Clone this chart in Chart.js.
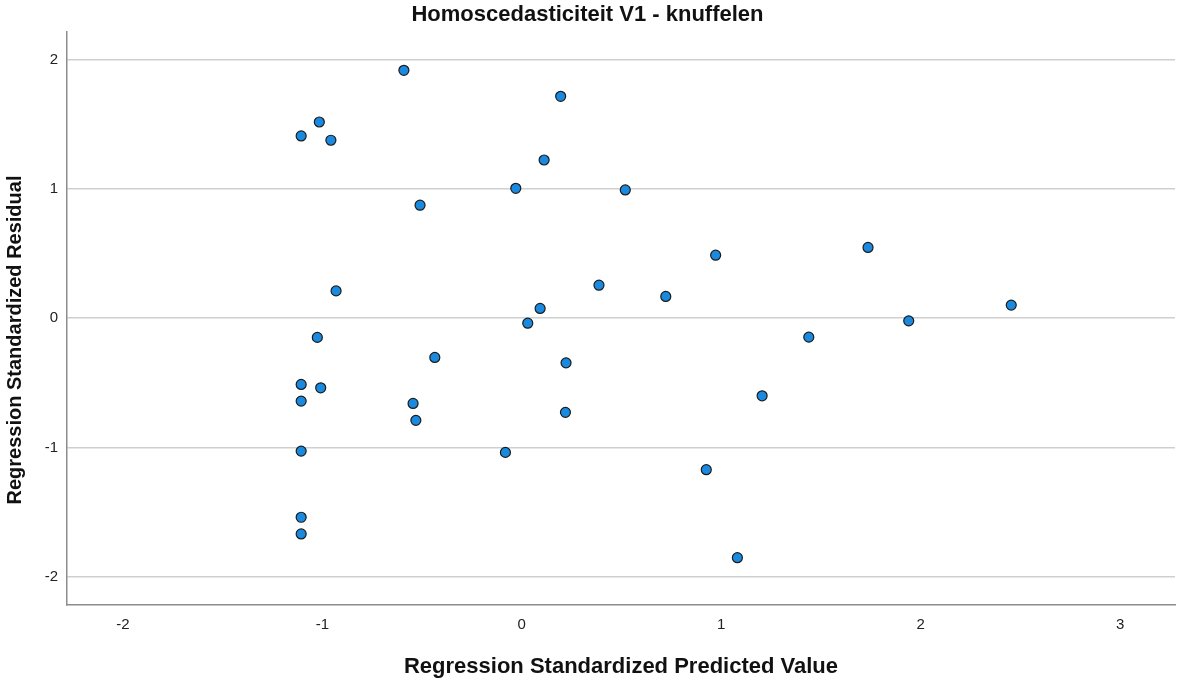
<!DOCTYPE html>
<html>
<head>
<meta charset="utf-8">
<script src="https://cdn.jsdelivr.net/npm/chart.js@4/dist/chart.umd.min.js"></script>
<style>
  html, body { margin: 0; padding: 0; background: #ffffff; overflow: hidden; }
  #wrap { width: 1177px; height: 678px; position: relative; }
</style>
</head>
<body>
<div id="wrap"><canvas id="c" width="1177" height="678"></canvas></div>
<script>
const chartTitle = 'Homoscedasticiteit V1 - knuffelen';
const xAxisTitle = 'Regression Standardized Predicted Value';
const yAxisTitle = 'Regression Standardized Residual';

const predicted = [
  -0.591, 0.195, -1.015, -1.106, -0.957, 0.112, -0.030, 0.519, -0.510,
  -0.931, 0.387, 0.092, 0.030, -1.025, -0.436, 0.222, -1.106, -1.008,
  -1.106, -0.545, -0.531, 0.219, 0.972, 1.736, 0.722, 2.454, 1.940,
  1.439, 1.205, -1.106, -0.082, 0.925, -1.106, -1.106, 1.081
];
const residual = [
  1.918, 1.717, 1.518, 1.410, 1.377, 1.224, 1.005, 0.992, 0.874,
  0.211, 0.255, 0.075, -0.039, -0.149, -0.304, -0.346, -0.513, -0.539,
  -0.642, -0.660, -0.791, -0.729, 0.487, 0.547, 0.168, 0.101, -0.021,
  -0.147, -0.601, -1.029, -1.039, -1.173, -1.541, -1.670, -1.854
];
const xTicks = [-2, -1, 0, 1, 2, 3];
const yTicks = [-2, -1, 0, 1, 2];

const points = predicted.map((x, i) => ({ x: x, y: residual[i] }));

const FONT = "'Liberation Sans', Arial, Helvetica, sans-serif";

const yTitlePlugin = {
  id: 'yTitlePlugin',
  afterDraw(chart) {
    const ctx = chart.ctx;
    ctx.save();
    ctx.translate(15, 340);
    ctx.rotate(-Math.PI / 2);
    ctx.font = 'bold 20px ' + FONT;
    ctx.fillStyle = '#111111';
    ctx.textAlign = 'center';
    ctx.textBaseline = 'middle';
    ctx.fillText(yAxisTitle, 0, 0);
    ctx.restore();
  }
};

new Chart(document.getElementById('c'), {
  type: 'scatter',
  data: {
    datasets: [{
      label: 'Residuals',
      data: points,
      backgroundColor: '#1a8ae0',
      borderColor: '#1c1c1c',
      borderWidth: 1.2,
      pointRadius: 5,
      pointHoverRadius: 5
    }]
  },
  options: {
    responsive: false,
    animation: false,
    layout: { autoPadding: false, padding: { left: 0, right: 2, top: 0, bottom: 0 } },
    plugins: {
      legend: { display: false },
      tooltip: { enabled: false },
      title: {
        display: true,
        text: chartTitle,
        color: '#111111',
        font: { family: FONT, size: 22, weight: 'bold', lineHeight: 1.15 },
        padding: { top: 2, bottom: 4 }
      }
    },
    scales: {
      x: {
        type: 'linear',
        min: -2.28,
        max: 3.275,
        afterBuildTicks: (s) => { s.ticks = xTicks.map(v => ({ value: v })); },
        afterFit: (s) => { s.height = 73; s.paddingLeft = 0; s.paddingRight = 0; },
        grid: { display: false, drawTicks: false },
        border: { display: true, color: '#8c8c8c', width: 1.5 },
        ticks: {
          color: '#222222',
          font: { family: FONT, size: 15 },
          padding: 11,
          maxRotation: 0
        },
        title: {
          display: true,
          text: xAxisTitle,
          color: '#111111',
          font: { family: FONT, size: 22, weight: 'bold', lineHeight: 1.0 },
          padding: { top: 0, bottom: 0 }
        }
      },
      y: {
        type: 'linear',
        min: -2.22,
        max: 2.22,
        afterBuildTicks: (s) => { s.ticks = yTicks.map(v => ({ value: v })); },
        afterFit: (s) => { s.width = 67; },
        grid: { display: true, drawTicks: false, color: '#cfcfcf', lineWidth: 1.5 },
        border: { display: true, color: '#8c8c8c', width: 1.5 },
        ticks: {
          color: '#222222',
          font: { family: FONT, size: 15 },
          padding: 9
        },
        title: { display: false }
      }
    }
  },
  plugins: [yTitlePlugin]
});
</script>
</body>
</html>
